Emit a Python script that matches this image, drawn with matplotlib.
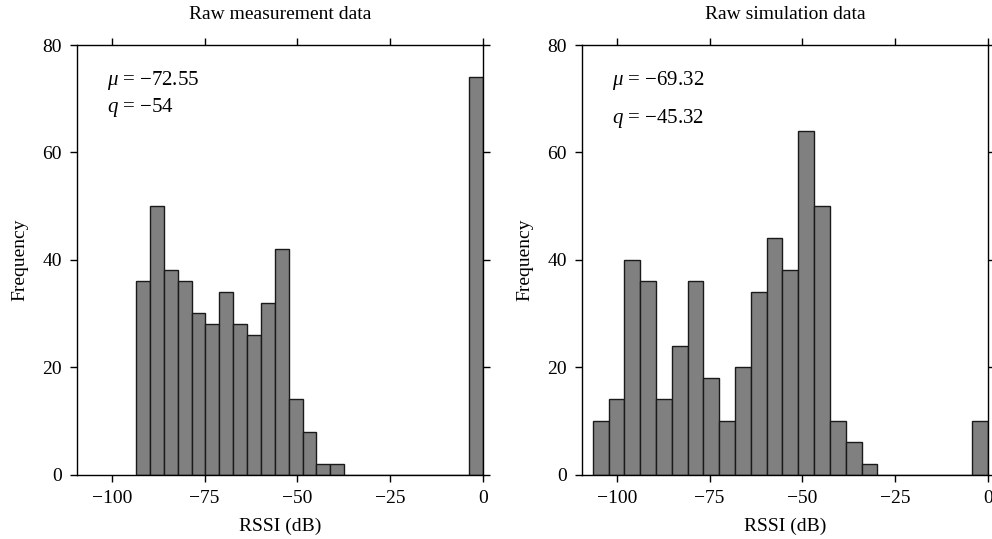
import numpy as np
import matplotlib
matplotlib.use("Agg")
import matplotlib.pyplot as plt

plt.rcParams['font.family'] = ['Liberation Serif', 'DejaVu Serif']
plt.rcParams['mathtext.fontset'] = 'custom'
plt.rcParams['mathtext.rm'] = 'Liberation Serif'
plt.rcParams['mathtext.it'] = 'Liberation Serif:italic'

# Data
meas_counts = [36, 50, 38, 36, 30, 28, 34, 28, 26, 32, 42, 14, 8, 2, 2,
               0, 0, 0, 0, 0, 0, 0, 0, 0, 74]
meas_range = (-93.5, 0.0)
sim_counts = [10, 14, 40, 36, 14, 24, 36, 18, 10, 20, 34, 44, 38, 64, 50,
              10, 6, 2, 0, 0, 0, 0, 0, 0, 10]
sim_range = (-106.5, 0.0)
titles = ["Raw measurement data", "Raw simulation data"]
mu_vals = ["\u221272.55", "\u221269.32"]
q_vals = ["\u221254", "\u221245.32"]
x_ticks = [-100, -75, -50, -25, 0]
y_ticks = [0, 20, 40, 60, 80]

FS = 14
fig = plt.figure(figsize=(9.92, 5.39), dpi=100)
W, H = 992, 539
axes_px = [77, 582]
top_px, bot_px = 45, 474.5

datasets = [(meas_counts, meas_range), (sim_counts, sim_range)]
text_pos = [((107, 80), (107, 108)), ((612, 80), (612, 118))]

for i, ((counts, rng), x0) in enumerate(zip(datasets, axes_px)):
    ax = fig.add_axes([x0 / W, 1 - bot_px / H, 406 / W, (bot_px - top_px) / H])
    edges = np.linspace(rng[0], rng[1], len(counts) + 1)
    ax.bar(edges[:-1], counts, width=np.diff(edges), align='edge',
           color='#808080', edgecolor='#1a1a1a', linewidth=1.0)
    ax.set_xlim(-109.4, 0)
    ax.set_ylim(0, 80)
    ax.set_xticks(x_ticks)
    ax.set_yticks(y_ticks)
    ax.set_xticklabels([("\u2212%d" % -t) if t < 0 else str(t) for t in x_ticks])
    ax.tick_params(direction='out', length=5, width=1, labelsize=FS,
                   top=True, right=True, labeltop=False, labelright=False, pad=6)
    for s in ax.spines.values():
        s.set_linewidth(1.0)
    ax.set_title(titles[i], fontsize=FS, pad=19)
    ax.set_xlabel("RSSI (dB)", fontsize=FS, labelpad=8)
    ax.set_ylabel("Frequency", fontsize=FS, labelpad=10)
    (mx, my), (qx, qy) = text_pos[i]
    ax.text(mx / W, 1 - my / H, r"$\mu$ = " + mu_vals[i],
            transform=fig.transFigure, fontsize=FS + 1, va='center', ha='left')
    ax.text(qx / W, 1 - qy / H, r"$q$ = " + q_vals[i],
            transform=fig.transFigure, fontsize=FS + 1, va='center', ha='left')

fig.savefig("out.png", dpi=100)
